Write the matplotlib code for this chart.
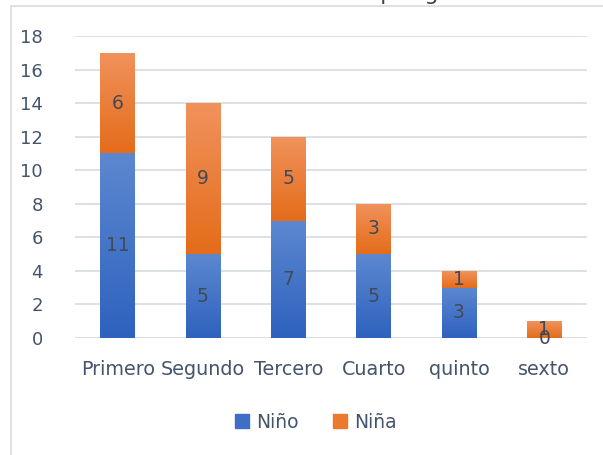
import numpy as np
import matplotlib
matplotlib.use("Agg")
import matplotlib.pyplot as plt
from matplotlib.colors import LinearSegmentedColormap
from matplotlib.patches import Rectangle, Patch

# datos
grados = ["Primero", "Segundo", "Tercero", "Cuarto", "quinto", "sexto"]
ninos = [11, 5, 7, 5, 3, 0]
ninas = [6, 9, 5, 3, 1, 1]
titulo = "Cantidad de alumnos por grados"

txt_color = "#44546A"
grid_color = "#D9DEE5"

plt.rcParams["font.family"] = ["DejaVu Sans"]

fig = plt.figure(figsize=(6.03, 4.55), dpi=100)
ax = fig.add_axes([75 / 603, 1 - 338 / 455, 512 / 603, (338 - 36) / 455])

x = np.arange(len(grados))
b1 = ax.bar(x, ninos, width=0.41, color="#4472C4", zorder=2)
b2 = ax.bar(x, ninas, width=0.41, bottom=ninos, color="#ED7D31", zorder=2)

# degradado vertical en cada segmento, como en Excel
cm_azul = LinearSegmentedColormap.from_list("azul", ["#2E62BE", "#5D88D0"])
cm_naranja = LinearSegmentedColormap.from_list("naranja", ["#E46C1A", "#F1925C"])
grad = np.linspace(0, 1, 256).reshape(-1, 1)
for bars, cmap in ((b1, cm_azul), (b2, cm_naranja)):
    for p in bars:
        if p.get_height() <= 0:
            continue
        x0, y0 = p.get_x(), p.get_y()
        im = ax.imshow(grad, cmap=cmap, aspect="auto", origin="lower",
                       extent=(x0, x0 + p.get_width(), y0, y0 + p.get_height()),
                       zorder=3)
        im.set_clip_path(p)

# etiquetas de datos
for i in range(len(grados)):
    ax.text(x[i], ninos[i] / 2, str(ninos[i]), ha="center", va="center",
            fontsize=13.5, color="#404A58", zorder=5)
    ax.text(x[i], ninos[i] + ninas[i] / 2, str(ninas[i]), ha="center", va="center",
            fontsize=13.5, color="#404A58", zorder=5)

ax.set_xlim(-0.5, len(grados) - 0.5)
ax.set_ylim(0, 18)
ax.set_yticks(range(0, 19, 2))
ax.set_xticks(x)
ax.set_xticklabels(grados)
ax.grid(axis="y", color=grid_color, linewidth=1.3, zorder=0)
ax.set_axisbelow(True)
for s in ax.spines.values():
    s.set_visible(False)
ax.axhline(0, color=grid_color, linewidth=1.3, zorder=1)
ax.tick_params(axis="both", length=0, labelsize=13, colors=txt_color)
ax.tick_params(axis="x", labelsize=13.8, pad=16)
ax.tick_params(axis="y", pad=23)

# titulo cortado arriba
fig.text(318 / 603, 1 + 0.3 / 455, titulo, ha="center", va="baseline",
         fontsize=16, color="#404040")

# borde del area del grafico
fig.patches.append(Rectangle((11 / 603, -0.05), 1.0, 1.05 - 6 / 455,
                             transform=fig.transFigure, fill=False,
                             edgecolor=grid_color, linewidth=1.3))

handles = [Patch(color="#3F6EC6", label="Niño"), Patch(color="#EC7A2E", label="Niña")]
fig.legend(handles=handles, loc="center", bbox_to_anchor=(316 / 603, 1 - 422 / 455),
           ncol=2, frameon=False, fontsize=13.5, labelcolor=txt_color,
           handlelength=0.75, handleheight=0.75, handletextpad=0.4, columnspacing=1.8)

fig.savefig("out.png", dpi=100)
